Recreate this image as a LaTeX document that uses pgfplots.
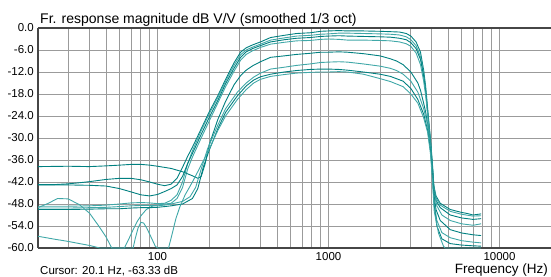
\documentclass[border=0pt]{standalone}
\usepackage{fontspec}
\setmainfont{Liberation Sans}
\usepackage{pgfplots}
\pgfplotsset{compat=1.18}
\definecolor{tealA}{RGB}{0,128,128}
\definecolor{tealB}{RGB}{64,168,168}
\definecolor{gridc}{RGB}{155,155,155}
\definecolor{framec}{RGB}{70,70,70}
\begin{document}
\begin{tikzpicture}[x=1bp,y=1bp]
\useasboundingbox (0,0) rectangle (551,276);
\begin{axis}[
  at={(38bp,28bp)}, anchor=south west,
  scale only axis, width=513bp, height=220bp,
  xmode=log, xmin=20, xmax=20000, ymin=-60, ymax=0,
  xtick={100,1000,10000}, xticklabels={100,1000,10000},
  minor xtick={20,30,40,50,60,70,80,90,200,300,400,500,600,700,800,900,2000,3000,4000,5000,6000,7000,8000,9000,20000},
  ytick={-60,-54,-48,-42,-36,-30,-24,-18,-12,-6,0},
  yticklabels={-60.0,-54.0,-48.0,-42.0,-36.0,-30.0,-24.0,-18.0,-12.0,-6.0,0.0},
  grid=both,
  major grid style={gridc, line width=1bp},
  minor grid style={gridc, line width=1bp},
  major tick length=0pt, minor tick length=0pt,
  axis x line*=box, axis y line*=left,
  axis line style={framec, line width=1.3bp},
  xticklabel style={inner sep=0pt, anchor=north, yshift=-4bp, font=\fontsize{11.5bp}{13bp}\selectfont},
  yticklabel style={inner sep=0pt, anchor=east, xshift=-4bp, font=\fontsize{11.5bp}{13bp}\selectfont},
  every axis plot/.append style={no markers, line width=0.9bp, line join=round},
]
% c1
\addplot[tealA] coordinates {(20,-42.7)(25,-42.7)(30,-42.5)(35,-42.2)(40,-41.9)(50,-41.3)(60,-41.0)(70,-41.0)(80,-41.4)(90,-42.0)(100,-42.6)(110,-43.0)(120,-42.6)(130,-41.0)(140,-38.0)(150,-35.0)(160,-32.5)(180,-27.5)(200,-23.0)(225,-18.5)(250,-14.0)(280,-9.5)(306,-6.6)(330,-5.4)(360,-4.6)(400,-3.8)(458,-2.6)(550,-2.0)(650,-1.5)(780,-1.3)(900,-0.9)(1000,-0.8)(1150,-0.7)(1290,-0.8)(1600,-0.8)(2000,-0.9)(2300,-1.0)(2600,-1.1)(2850,-1.5)(3030,-2.2)(3250,-3.8)(3450,-6.6)(3600,-11.5)(3700,-16.0)(3850,-25.0)(3950,-30.4)(4050,-37.0)(4130,-43.0)(4250,-45.8)(4500,-47.8)(5150,-49.5)(6000,-50.3)(6500,-50.6)(7000,-51.0)(7800,-50.7)};
% c2
\addplot[tealB] coordinates {(20,-48.6)(30,-48.6)(40,-48.5)(50,-48.3)(60,-48.0)(70,-47.7)(80,-47.6)(90,-47.7)(100,-47.9)(110,-47.8)(120,-47.0)(130,-45.5)(140,-42.0)(150,-37.0)(160,-33.5)(180,-28.0)(200,-23.5)(225,-19.0)(250,-14.5)(280,-10.2)(306,-7.3)(330,-6.0)(360,-5.2)(400,-4.4)(458,-3.3)(550,-2.7)(650,-2.2)(780,-2.0)(900,-1.7)(1000,-1.6)(1150,-1.4)(1290,-1.4)(1600,-1.5)(2000,-1.6)(2300,-1.7)(2600,-1.9)(2850,-2.4)(3030,-3.2)(3250,-4.8)(3450,-7.8)(3600,-12.5)(3700,-16.8)(3850,-25.5)(3950,-31.0)(4050,-37.5)(4130,-43.5)(4250,-46.3)(4500,-48.3)(5150,-50.0)(6000,-50.8)(7000,-51.3)(7800,-51.2)};
% c3
\addplot[tealA] coordinates {(20,-42.8)(30,-42.8)(40,-42.9)(50,-43.1)(60,-43.8)(70,-44.7)(80,-45.5)(90,-45.8)(100,-45.4)(110,-44.6)(120,-43.8)(130,-42.8)(140,-40.5)(150,-37.0)(160,-34.2)(180,-29.0)(200,-24.5)(225,-19.8)(250,-15.2)(280,-11.0)(306,-8.0)(330,-6.5)(360,-5.6)(400,-4.8)(458,-3.8)(550,-3.2)(650,-2.8)(780,-2.6)(900,-2.3)(1000,-2.2)(1150,-2.1)(1290,-2.2)(1600,-2.3)(2000,-2.4)(2300,-2.5)(2600,-2.8)(2850,-3.2)(3030,-4.0)(3250,-5.6)(3450,-8.6)(3600,-13.2)(3700,-17.5)(3850,-26.0)(3950,-31.5)(4050,-38.0)(4130,-44.0)(4250,-47.0)(4500,-49.0)(5150,-51.0)(6000,-51.8)(7000,-52.2)(7800,-52.0)};
% c4
\addplot[tealB] coordinates {(20,-56.8)(25,-57.6)(30,-58.2)(35,-58.8)(40,-59.3)(46,-60)(64,-60)(68,-57.5)(72,-55.0)(76,-52.8)(80,-51.2)(86,-49.5)(93,-48.6)(100,-48.3)(110,-48.0)(120,-47.8)(130,-46.5)(140,-43.5)(150,-38.5)(160,-35.2)(180,-30.0)(200,-25.5)(225,-20.5)(250,-16.0)(280,-11.8)(306,-8.8)(330,-7.2)(360,-6.2)(400,-5.3)(458,-4.4)(550,-3.9)(650,-3.5)(780,-3.4)(900,-3.1)(1000,-3.0)(1150,-3.1)(1290,-3.3)(1600,-3.3)(2000,-3.4)(2300,-3.5)(2600,-3.8)(2850,-4.3)(3030,-5.0)(3250,-6.8)(3450,-10.0)(3600,-14.5)(3700,-18.5)(3850,-26.5)(3950,-32.0)(4050,-38.5)(4150,-45.0)(4300,-48.5)(4600,-51.0)(5150,-52.5)(6000,-53.4)(7000,-53.8)(7800,-53.4)};
% c5
\addplot[tealA] coordinates {(20,-37.8)(30,-37.7)(40,-37.8)(50,-37.6)(60,-37.4)(70,-37.2)(80,-37.2)(90,-37.4)(100,-37.7)(120,-38.3)(140,-39.2)(160,-40.3)(172,-41.0)(180,-40.5)(190,-37.0)(200,-32.0)(225,-25.0)(250,-20.0)(280,-15.5)(306,-13.0)(330,-11.5)(360,-10.3)(400,-9.2)(458,-8.0)(550,-7.6)(650,-7.2)(780,-6.9)(900,-6.6)(1000,-6.6)(1150,-6.5)(1290,-6.6)(1600,-7.0)(2000,-7.6)(2300,-8.4)(2500,-9.0)(2730,-10.0)(3030,-12.0)(3330,-15.0)(3450,-17.0)(3600,-20.5)(3700,-23.0)(3850,-28.0)(3950,-32.5)(4050,-38.5)(4150,-46.0)(4250,-49.5)(4500,-52.5)(5150,-55.0)(6000,-55.9)(7000,-56.4)(7800,-56.6)};
% c6
\addplot[tealB] coordinates {(20,-49.1)(30,-49.1)(40,-49.0)(50,-48.9)(60,-48.7)(70,-48.5)(80,-48.4)(90,-48.4)(100,-48.5)(110,-48.3)(120,-48.0)(140,-47.3)(155,-46.0)(167,-43.5)(180,-38.5)(196,-33.0)(225,-26.5)(250,-22.0)(293,-17.5)(330,-15.0)(365,-13.4)(400,-12.3)(458,-11.2)(550,-10.7)(650,-10.2)(780,-9.8)(900,-9.4)(1000,-9.3)(1150,-9.2)(1290,-9.3)(1600,-9.8)(2000,-10.4)(2300,-11.0)(2500,-11.6)(2730,-12.6)(3030,-14.5)(3330,-17.5)(3600,-22.0)(3800,-26.5)(3950,-32.5)(4050,-39.0)(4150,-47.5)(4300,-52.5)(4600,-55.8)(5150,-57.2)(6000,-58.0)(7000,-58.4)(7800,-58.6)};
% c7
\addplot[tealA] coordinates {(20,-49.5)(30,-49.5)(40,-49.4)(50,-49.3)(60,-49.3)(70,-49.1)(80,-49.0)(90,-49.0)(100,-48.9)(110,-48.7)(120,-48.5)(140,-48.0)(160,-46.5)(172,-43.8)(185,-38.0)(200,-33.5)(225,-27.5)(250,-23.0)(293,-18.5)(330,-15.8)(365,-14.2)(400,-13.3)(458,-12.6)(550,-12.0)(650,-11.6)(780,-11.3)(900,-11.2)(1000,-11.2)(1150,-11.3)(1290,-11.5)(1600,-12.0)(2000,-12.6)(2300,-13.2)(2730,-14.5)(3030,-16.5)(3330,-19.5)(3600,-23.5)(3800,-28.0)(3950,-33.5)(4050,-40.0)(4150,-48.5)(4300,-54.0)(4600,-57.5)(5150,-58.8)(6000,-59.2)(7000,-59.4)(7800,-59.5)};
% c8
\addplot[tealB] coordinates {(20,-49.0)(23,-47.8)(26,-46.5)(30,-46.6)(35,-48.2)(40,-50.5)(45,-53.8)(50,-57.0)(54,-60)(72,-60)(74,-57.5)(77,-54.5)(80,-53.0)(83,-53.2)(87,-54.8)(92,-57.2)(97,-59.5)(100,-60)(116,-60)(122,-56.0)(128,-52.0)(135,-48.8)(145,-45.5)(160,-42.0)(175,-38.5)(196,-34.0)(225,-28.0)(250,-24.0)(293,-19.5)(330,-16.8)(365,-15.0)(400,-14.0)(458,-13.2)(550,-12.7)(650,-12.3)(780,-12.1)(900,-12.0)(1000,-12.0)(1150,-11.9)(1290,-12.0)(1600,-12.6)(2000,-13.8)(2300,-14.6)(2730,-16.0)(3030,-18.0)(3330,-20.5)(3600,-24.5)(3800,-28.5)(3950,-34.5)(4050,-41.5)(4150,-50.0)(4400,-56.0)(4700,-59.5)(4800,-60)(7800,-60)};
\end{axis}
\node[anchor=base west, inner sep=0pt, font=\fontsize{14bp}{16bp}\selectfont] at (40,253) {Fr. response magnitude dB V/V (smoothed 1/3 oct)};
\node[anchor=base west, inner sep=0pt, font=\fontsize{11.5bp}{13bp}\selectfont] at (40,2) {Cursor: 20.1 Hz, -63.33 dB};
\node[anchor=base east, inner sep=0pt, font=\fontsize{13.5bp}{16bp}\selectfont] at (548,2.7) {Frequency (Hz)};
\end{tikzpicture}
\end{document}
